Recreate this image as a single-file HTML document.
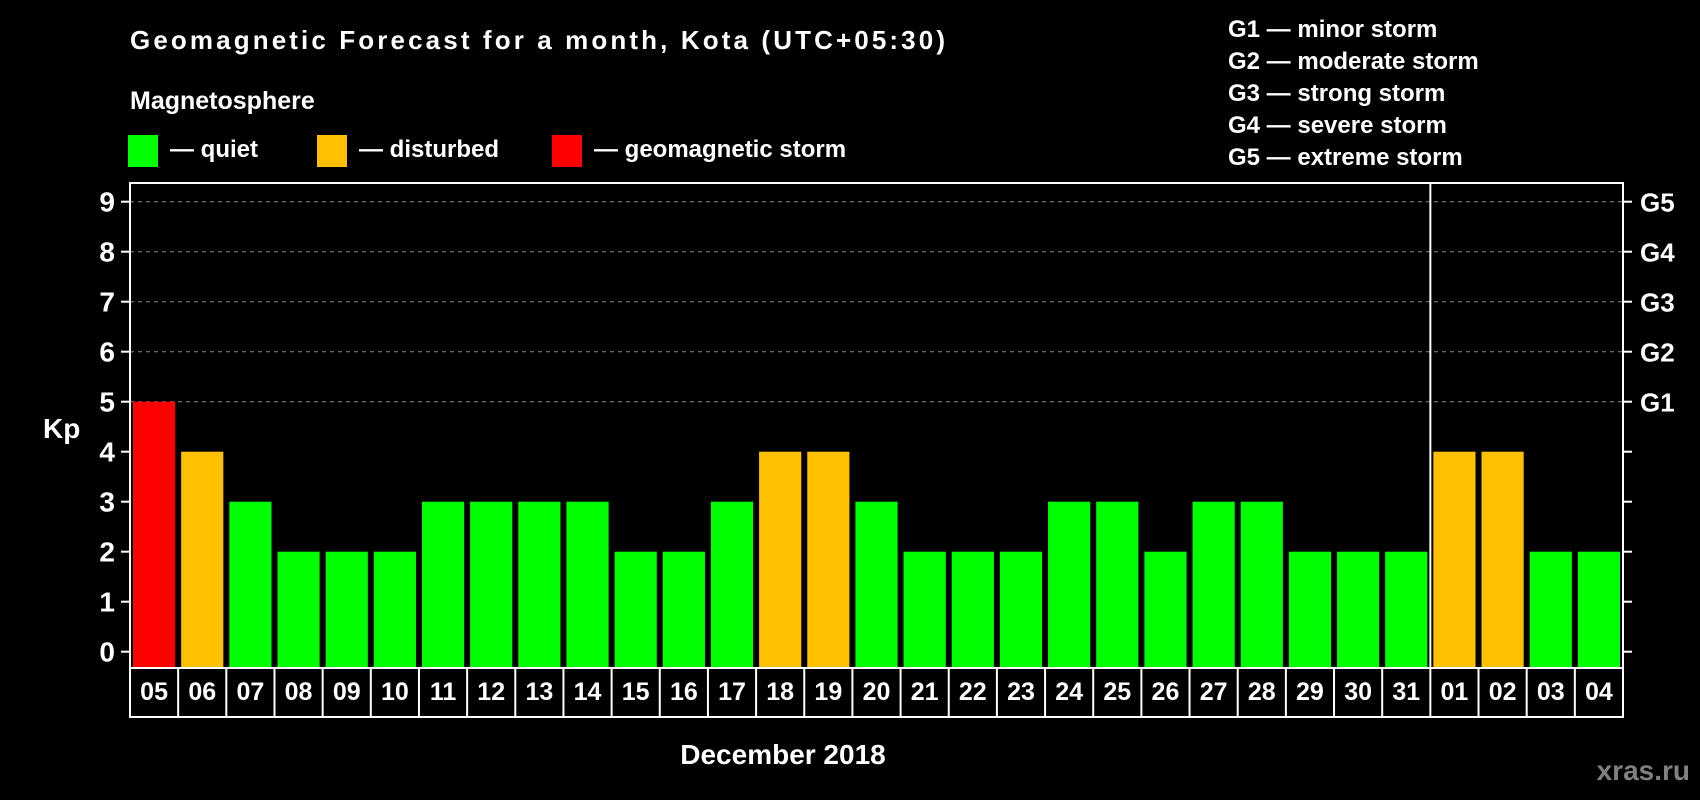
<!DOCTYPE html>
<html><head><meta charset="utf-8"><style>
html,body{margin:0;padding:0;background:#000;}
svg{display:block;font-family:"Liberation Sans",Arial,sans-serif;font-weight:bold;}
</style></head><body>
<svg id="chart" width="1700" height="800" viewBox="0 0 1700 800">
<rect x="0" y="0" width="1700" height="800" fill="#000"/>
<text x="130" y="49" fill="#fff" font-size="26" textLength="815">Geomagnetic Forecast for a month, Kota (UTC+05:30)</text>
<text x="130" y="109" fill="#fff" font-size="25">Magnetosphere</text>
<g>
<rect x="128" y="135" width="30" height="32" fill="#00ff00"/>
<text x="170" y="157" fill="#fff" font-size="24">— quiet</text></g>
<g>
<rect x="317" y="135" width="30" height="32" fill="#ffc000"/>
<text x="359" y="157" fill="#fff" font-size="24">— disturbed</text></g>
<g>
<rect x="552" y="135" width="30" height="32" fill="#ff0000"/>
<text x="594" y="157" fill="#fff" font-size="24">— geomagnetic storm</text></g>
<g fill="#fff" font-size="24">
<text x="1228" y="37">G1 — minor storm</text>
<text x="1228" y="69">G2 — moderate storm</text>
<text x="1228" y="101">G3 — strong storm</text>
<text x="1228" y="133">G4 — severe storm</text>
<text x="1228" y="165">G5 — extreme storm</text>
</g>
<text x="43" y="438" fill="#fff" font-size="28">Kp</text>
<text x="783" y="764" fill="#fff" font-size="28" text-anchor="middle">December 2018</text>
<text x="1690" y="780" fill="#808080" font-size="28" text-anchor="end">xras.ru</text>
<g id="grid"></g><g id="bars"></g><g id="axes"></g>
</svg>
<script>
const days = ["05","06","07","08","09","10","11","12","13","14","15","16","17","18","19","20","21","22","23","24","25","26","27","28","29","30","31","01","02","03","04"];
const kpValues = [5,4,3,2,2,2,3,3,3,3,2,2,3,4,4,3,2,2,2,3,3,2,3,3,2,2,2,4,4,2,2];
const yTicks = [0,1,2,3,4,5,6,7,8,9];
const gLabels = ["G1","G2","G3","G4","G5"];
const monthBreakIndex = 27;

const NS = "http://www.w3.org/2000/svg";
const L = 130, R = 1623, T = 183, B = 668, LB = 717;
const cellW = (R - L) / days.length;
const y = v => 651.7 - v * 50;
const x = i => L + i * cellW;
function mk(tag, attrs, parent, text){
  const e = document.createElementNS(NS, tag);
  for (const k in attrs) e.setAttribute(k, attrs[k]);
  if (text !== undefined) e.textContent = text;
  parent.appendChild(e); return e;
}
const grid = document.getElementById('grid'), bars = document.getElementById('bars'), axes = document.getElementById('axes');
yTicks.forEach(v => {
  if (v >= 5) {
    const g = mk('line', {x1:L, x2:R, y1:y(v), y2:y(v), stroke:'#888', 'stroke-width':1, 'stroke-dasharray':'4,4'}, grid);
    
    
  }
  const t1 = mk('line', {x1:L-9, x2:L, y1:y(v), y2:y(v), stroke:'#fff', 'stroke-width':2}, axes);
  
  
  const t2 = mk('line', {x1:R, x2:R+9, y1:y(v), y2:y(v), stroke:'#fff', 'stroke-width':2}, axes);
  
  
  const lb = mk('text', {x:115, y:y(v)+10, fill:'#fff', 'font-size':28, 'text-anchor':'end'}, axes, String(v));
  
  
});
gLabels.forEach((g, i) => {
  const t = mk('text', {x:1640, y:y(5+i)+10, fill:'#fff', 'font-size':26}, axes, g);
  
  
});
kpValues.forEach((v, i) => {
  const c = v >= 5 ? '#ff0000' : (v >= 4 ? '#ffc000' : '#00ff00');
  const b = mk('rect', {x:x(i)+3, y:y(v), width:cellW-6, height:B-y(v), fill:c}, bars);
  
  
  const t = mk('text', {x:x(i)+cellW/2, y:700, fill:'#fff', 'font-size':25, 'text-anchor':'middle'}, axes, days[i]);
  
  
  const s = mk('line', {x1:x(i), x2:x(i), y1:B, y2:LB, stroke:'#fff', 'stroke-width':2}, axes);
  
  
});
const fr = mk('rect', {x:L, y:T, width:R-L, height:B-T, fill:'none', stroke:'#fff', 'stroke-width':2}, axes);


const ed = mk('line', {x1:R, x2:R, y1:B, y2:LB, stroke:'#fff', 'stroke-width':2}, axes);


const bl = mk('line', {x1:L-1, x2:R+1, y1:LB, y2:LB, stroke:'#fff', 'stroke-width':2}, axes);


const sep = mk('line', {x1:x(monthBreakIndex), x2:x(monthBreakIndex), y1:T, y2:B, stroke:'#fff', 'stroke-width':2}, axes);


</script>
</body></html>
